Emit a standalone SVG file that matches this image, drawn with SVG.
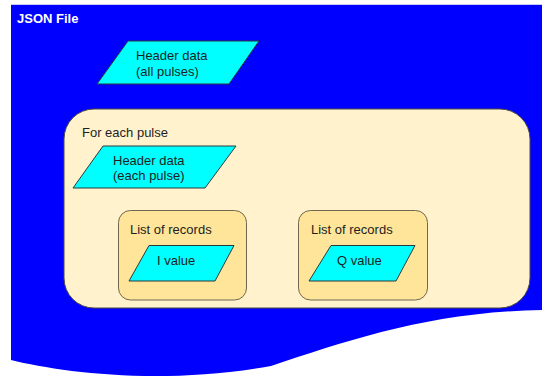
<svg xmlns="http://www.w3.org/2000/svg" width="542" height="381" viewBox="0 0 542 381">
<style>
text{font-family:"Liberation Sans",Arial,sans-serif;font-size:13px;fill:#1e1e1e}
.title{font-weight:bold;fill:#ffffff}
.para{fill:#00ffff;stroke:#2a3a3a;stroke-width:1}
.loop{fill:#fff2cc;stroke:#4d4a40;stroke-width:1}
.list{fill:#ffe599;stroke:#6e6650;stroke-width:1}
</style>
<rect width="542" height="381" fill="#ffffff"/>
<g id="json-file">
<path d="M11,5 L542,5 L542,310 C430,312 350,340 271,366 C160,386 60,372 11,360 Z" fill="#0000ff"/>
<line x1="11" y1="4.5" x2="542" y2="4.5" stroke="#c8c8f2" stroke-width="1"/>
<text class="title" x="17" y="23">JSON File</text>
</g>
<g id="header-all">
<polygon class="para" points="128,41 259,41 229,84 97,84"/>
<text x="136" y="60">Header data</text>
<text x="136" y="75.5">(all pulses)</text>
</g>
<g id="for-each-pulse">
<rect class="loop" x="64" y="109" width="466" height="199" rx="30" ry="30"/>
<text x="82" y="137">For each pulse</text>
</g>
<g id="header-each">
<polygon class="para" points="103,146 236,146 205,188 73,188"/>
<text x="113" y="165">Header data</text>
<text x="113" y="180">(each pulse)</text>
</g>
<g id="list-i">
<rect class="list" x="118.5" y="210.5" width="128" height="89.5" rx="12" ry="12"/>
<text x="130" y="234">List of records</text>
</g>
<g id="i-value">
<polygon class="para" points="149,245.5 234,245.5 215,281 129,281"/>
<text x="157" y="265">I value</text>
</g>
<g id="list-q">
<rect class="list" x="298.5" y="210.5" width="129" height="89.5" rx="12" ry="12"/>
<text x="311" y="234">List of records</text>
</g>
<g id="q-value">
<polygon class="para" points="331,245.5 415,245.5 396,281 309,281"/>
<text x="337" y="265">Q value</text>
</g>
<g id="connectors"></g>
</svg>
